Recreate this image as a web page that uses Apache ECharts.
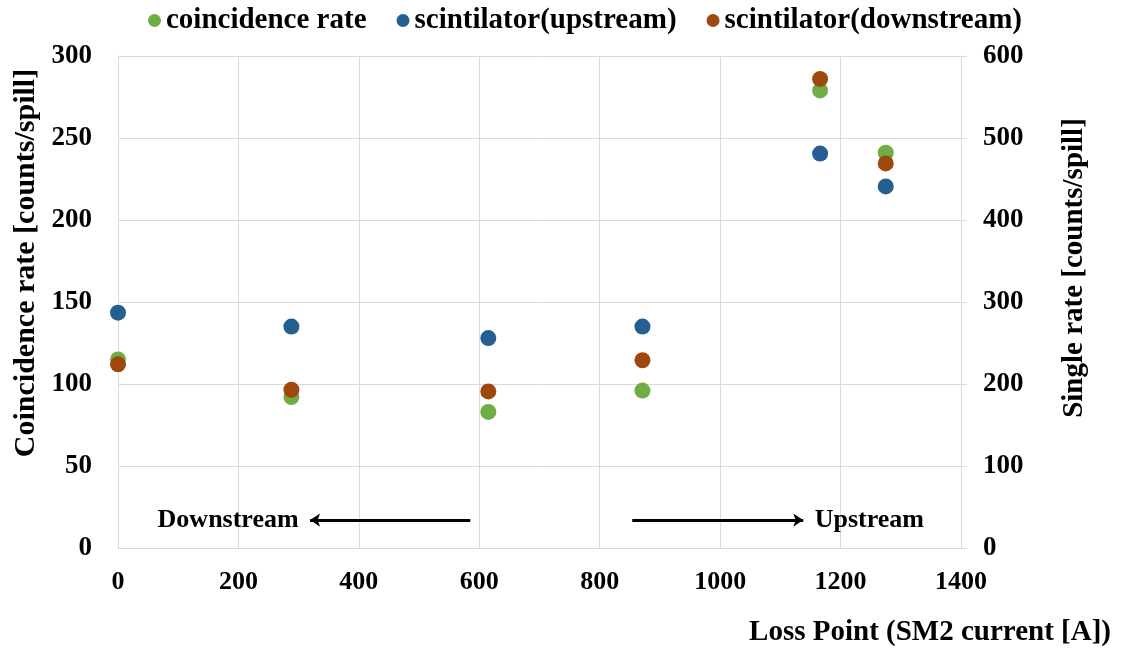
<!DOCTYPE html>
<html>
<head>
<meta charset="utf-8">
<script src="https://cdn.jsdelivr.net/npm/echarts@6/dist/echarts.min.js"></script>
<style>
html,body{margin:0;padding:0;background:#fff;}
#chart{width:1121px;height:648px;}
</style>
</head>
<body>
<div id="chart"></div>
<script>
// Data
const lossPoints = [0, 288, 615, 871, 1166, 1275];
const coincidenceRate = [115, 92, 83, 96, 279, 241];          // left axis
const scintUpstream = [287, 270, 256, 270, 481, 441];         // right axis
const scintDownstream = [224, 193, 191, 229, 572, 469];       // right axis
const seriesNames = ['coincidence rate', 'scintilator(upstream)', 'scintilator(downstream)'];
const seriesColors = ['#70AD47', '#255E91', '#9E480E'];
const xTitle = 'Loss Point (SM2 current [A])';
const yLeftTitle = 'Coincidence rate [counts/spill]';
const yRightTitle = 'Single rate [counts/spill]';
const arrowDown = [[585, 17], [319, 17]];
const arrowUp = [[854, 17], [1138, 17]];
const annotDown = {text: 'Downstream', at: [300, 17]};
const annotUp = {text: 'Upstream', at: [1157, 17]};

const FONT = '"Liberation Serif", "Times New Roman", serif';
const chart = echarts.init(document.getElementById('chart'));

function pairs(ys) { return lossPoints.map((x, i) => [x, ys[i]]); }

const titleStyle = {fontFamily: FONT, fontWeight: 'bold', fill: '#000',
  align: 'center', verticalAlign: 'middle'};

const option = {
  backgroundColor: '#fff',
  animation: false,
  textStyle: {fontFamily: FONT, fontWeight: 'bold', color: '#000'},
  legend: {
    top: 1, left: 143,
    icon: 'circle', itemWidth: 13, itemHeight: 13, itemGap: 30,
    textStyle: {fontFamily: FONT, fontWeight: 'bold', fontSize: 29, color: '#000'},
    data: seriesNames
  },
  grid: {left: 118, right: 160, top: 56, bottom: 100, containLabel: false, outerBoundsMode: 'none'},
  graphic: [
    {type: 'text', x: 26, y: 263, rotation: Math.PI / 2, silent: true,
     style: Object.assign({text: yLeftTitle, fontSize: 30}, titleStyle)},
    {type: 'text', x: 1075, y: 268, rotation: Math.PI / 2, silent: true,
     style: Object.assign({text: yRightTitle, fontSize: 29}, titleStyle)}
  ],
  xAxis: {
    type: 'value', min: 0, max: 1400, interval: 200,
    name: xTitle,
    nameLocation: 'end', nameGap: 0,
    nameTextStyle: {fontFamily: FONT, fontWeight: 'bold', fontSize: 29, color: '#000',
      align: 'right', verticalAlign: 'top', padding: [70, -150, 0, 0]},
    axisLine: {show: true, lineStyle: {color: '#D9D9D9'}},
    axisTick: {show: false},
    axisLabel: {fontFamily: FONT, fontWeight: 'bold', fontSize: 26, color: '#000', margin: 21,
      formatter: v => String(v)},
    splitLine: {show: true, lineStyle: {color: '#D9D9D9'}}
  },
  yAxis: [
    {
      type: 'value', min: 0, max: 300, interval: 50, position: 'left',
      axisLine: {show: true, lineStyle: {color: '#D9D9D9'}},
      axisTick: {show: false},
      axisLabel: {fontFamily: FONT, fontWeight: 'bold', fontSize: 27, color: '#000', margin: 26},
      splitLine: {show: true, lineStyle: {color: '#D9D9D9'}}
    },
    {
      type: 'value', min: 0, max: 600, interval: 100, position: 'right',
      axisLine: {show: true, lineStyle: {color: '#D9D9D9'}},
      axisTick: {show: true, length: 6, lineStyle: {color: '#D9D9D9'}},
      axisLabel: {fontFamily: FONT, fontWeight: 'bold', fontSize: 27, color: '#000', margin: 22},
      splitLine: {show: false}
    }
  ],
  series: [
    {
      name: seriesNames[0], type: 'scatter', yAxisIndex: 0, symbolSize: 16,
      itemStyle: {color: seriesColors[0], opacity: 1}, data: pairs(coincidenceRate), z: 3
    },
    {
      name: seriesNames[1], type: 'scatter', yAxisIndex: 1, symbolSize: 16,
      itemStyle: {color: seriesColors[1], opacity: 1}, data: pairs(scintUpstream), z: 3
    },
    {
      name: seriesNames[2], type: 'scatter', yAxisIndex: 1, symbolSize: 16,
      itemStyle: {color: seriesColors[2], opacity: 1}, data: pairs(scintDownstream), z: 4
    },
    {
      name: 'annotations', type: 'scatter', yAxisIndex: 0, data: [], silent: true,
      markLine: {
        silent: true, symbol: ['none', 'arrow'], symbolSize: [10, 10],
        lineStyle: {color: '#000', width: 3, type: 'solid'},
        label: {show: false},
        data: [
          [{coord: arrowDown[0]}, {coord: arrowDown[1]}],
          [{coord: arrowUp[0]}, {coord: arrowUp[1]}]
        ]
      },
      markPoint: {
        silent: true, symbol: 'circle', symbolSize: 0,
        itemStyle: {color: 'transparent'},
        data: [
          {coord: annotDown.at, value: annotDown.text,
           label: {show: true, position: 'left', distance: 0, formatter: annotDown.text,
             fontFamily: FONT, fontWeight: 'bold', fontSize: 26, color: '#000'}},
          {coord: annotUp.at, value: annotUp.text,
           label: {show: true, position: 'left', distance: 0, formatter: annotUp.text,
             fontFamily: FONT, fontWeight: 'bold', fontSize: 26, color: '#000', align: 'left'}}
        ]
      }
    }
  ]
};
chart.setOption(option);
</script>
</body>
</html>
